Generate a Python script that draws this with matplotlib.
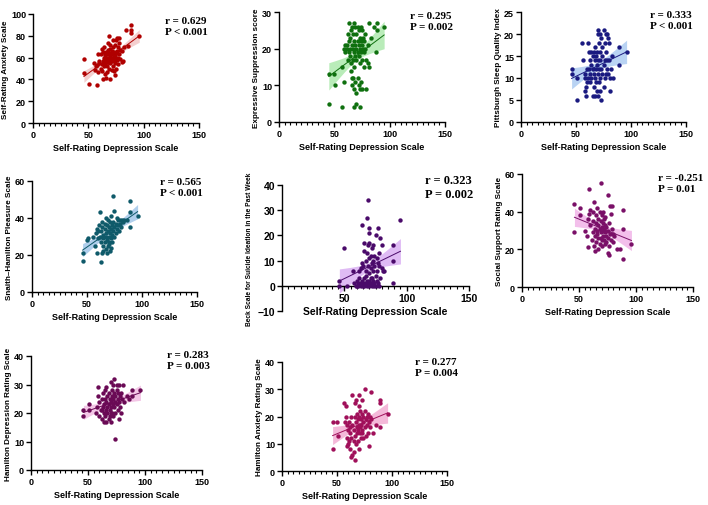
import numpy as np
import matplotlib
matplotlib.use('Agg')
import matplotlib.pyplot as plt
from matplotlib.ticker import MultipleLocator

plt.rcParams['font.family'] = 'Liberation Sans'
plt.rcParams['font.weight'] = 'bold'

# ---- data (x = Self-Rating Depression Scale) ----
p1 = [(46,59),(46,46),(51,36),(58,35),(63,40),(66,41),(70,40),(74,44),(59,47),(61,50),(55,55),(57,52),(59,63),(61,63),(62,54),(63,57),(64,60),(65,62),(65,55),(66,58),(66,65),(67,52),(67,60),(68,56),(68,63),(68,67),(69,80),(69,58),(69,50),(70,61),(70,55),(70,68),(71,57),(71,63),(72,60),(72,52),(72,70),(73,58),(73,65),(74,62),(74,55),(74,72),(75,60),(75,76),(76,66),(76,58),(77,54),(77,70),(78,63),(78,73),(79,67),(80,56),(80,66),(81,57),(82,70),(84,85),(86,71),(89,90),(89,85),(89,83),(96,80),(60,57),(62,48),(64,52),(65,45),(67,47),(63,65),(71,49),(73,48),(75,50),(76,78),(78,78),(70,72),(68,73),(72,76),(62,68),(64,70),(60,55),(58,53),(56,49),(71,66),(69,64),(66,60),(67,56),(73,61),(75,64),(77,60),(79,59),(71,59),(70,62),(69,56)]
p2 = [(45,13),(50,13),(51,10),(45,5),(57,4),(68,4),(70,5),(73,4),(59,11),(57,15),(59,20),(60,21),(61,21),(61,20),(62,24),(63,27),(63,22),(64,20),(64,18),(65,25),(65,16),(65,14),(66,26),(66,12),(66,10),(67,24),(67,20),(67,17),(67,12),(68,27),(68,22),(68,19),(68,15),(68,9),(69,26),(69,21),(69,18),(69,11),(70,24),(70,20),(70,17),(70,8),(71,26),(71,22),(71,19),(71,12),(72,25),(72,21),(72,18),(72,10),(73,23),(73,20),(73,16),(73,9),(74,26),(74,22),(74,19),(74,11),(75,25),(75,21),(75,17),(75,9),(76,23),(76,20),(77,22),(77,15),(77,19),(78,24),(78,20),(79,17),(79,9),(80,16),(80,21),(81,27),(81,15),(83,23),(86,26),(88,19),(89,27),(89,25),(95,26),(63,19),(64,23),(66,21),(62,17),(60,19)]
p3 = [(46,12),(46,11),(51,10),(51,5),(56,14),(55,18),(58,11),(58,10),(58,7),(59,8),(59,6),(60,12),(60,9),(61,18),(62,12),(62,16),(63,11),(63,9),(63,14),(64,16),(64,10),(64,13),(65,6),(65,15),(65,12),(66,8),(66,16),(66,11),(67,14),(67,10),(67,17),(68,12),(68,15),(68,9),(69,7),(69,13),(69,16),(70,21),(70,20),(70,11),(70,6),(70,14),(71,18),(71,9),(71,12),(72,16),(72,7),(72,10),(72,14),(73,5),(73,19),(73,12),(74,17),(74,11),(74,15),(75,21),(75,8),(75,13),(76,18),(76,14),(76,10),(77,11),(77,16),(78,20),(78,14),(78,12),(79,19),(79,11),(80,18),(80,14),(81,7),(81,10),(82,12),(83,15),(84,10),(89,17),(89,13),(96,16),(61,10),(67,6),(72,20),(77,20)]
p4 = [(46,21),(46,17),(50,28),(51,29),(55,30),(57,25),(58,32),(59,21),(59,34),(60,29),(61,36),(62,43),(62,30),(63,16),(63,27),(63,33),(64,21),(64,38),(64,35),(65,29),(65,25),(65,31),(66,34),(66,27),(66,37),(67,30),(67,23),(67,32),(68,21),(68,36),(68,28),(69,33),(69,25),(69,39),(70,30),(70,35),(70,27),(71,32),(71,38),(71,22),(72,29),(72,34),(72,41),(73,36),(73,31),(73,27),(74,52),(74,33),(74,38),(75,44),(75,30),(75,35),(76,37),(76,32),(77,40),(77,34),(78,36),(78,39),(79,33),(80,37),(80,39),(81,35),(82,39),(83,38),(84,39),(86,39),(89,49),(89,35),(89,43),(96,41),(60,33),(65,22),(67,40),(70,26),(72,24)]
p5 = [(46,2),(46,0),(50,15),(52,0),(57,6),(58,1),(59,0),(60,2),(61,1),(61,0),(62,3),(63,0),(63,1),(64,9),(64,24),(64,2),(65,0),(65,8),(65,1),(66,17),(66,14),(66,3),(66,0),(67,6),(67,1),(67,10),(68,27),(68,13),(68,2),(68,0),(69,34),(69,8),(69,1),(69,16),(70,23),(70,21),(70,17),(70,11),(70,5),(70,0),(70,2),(71,12),(71,7),(71,1),(72,3),(72,0),(72,15),(72,9),(73,6),(73,2),(73,16),(74,1),(74,0),(74,8),(74,12),(75,20),(75,4),(75,0),(76,6),(76,2),(77,23),(77,9),(77,1),(78,0),(78,13),(79,19),(79,3),(80,16),(80,7),(81,6),(82,6),(89,16),(89,10),(89,1),(95,26),(62,6),(67,4),(71,3),(73,10),(76,11),(78,8),(63,7),(60,0)]
p6 = [(46,44),(46,29),(51,42),(51,38),(55,30),(57,27),(58,21),(58,36),(59,52),(59,39),(60,41),(60,33),(61,25),(62,29),(62,35),(63,45),(63,22),(64,19),(64,31),(64,27),(65,38),(65,34),(65,24),(66,42),(66,30),(66,28),(67,36),(67,26),(67,33),(68,40),(68,23),(68,31),(69,55),(69,35),(69,29),(69,26),(70,38),(70,32),(70,22),(71,30),(71,34),(71,27),(72,36),(72,25),(72,31),(73,29),(73,23),(73,33),(74,27),(74,32),(74,24),(75,49),(75,18),(75,30),(75,26),(76,17),(76,22),(76,34),(77,43),(77,28),(78,39),(78,25),(79,43),(79,31),(80,24),(80,28),(81,27),(83,20),(86,20),(89,41),(89,31),(89,15),(96,23),(62,40),(67,20),(70,25),(73,37),(71,40)]
p7 = [(46,21),(46,19),(51,23),(51,21),(57,20),(58,22),(59,29),(59,26),(60,19),(60,24),(61,21),(62,18),(62,25),(63,22),(63,27),(64,17),(64,20),(64,23),(65,28),(65,19),(65,25),(66,21),(66,24),(66,17),(67,22),(67,26),(67,20),(68,18),(68,23),(68,27),(69,25),(69,21),(69,19),(70,31),(70,24),(70,22),(70,17),(71,26),(71,20),(71,28),(72,23),(72,25),(72,19),(73,32),(73,27),(73,22),(74,11),(74,24),(74,26),(74,20),(75,28),(75,23),(75,30),(76,25),(76,21),(76,27),(77,30),(77,24),(78,22),(78,26),(79,20),(79,27),(80,25),(81,30),(82,24),(84,26),(86,25),(89,28),(89,26),(96,28),(62,21),(66,29),(70,20),(72,30),(77,18)]
p8 = [(46,18),(46,8),(50,18),(51,13),(56,25),(57,18),(58,20),(58,24),(59,17),(59,12),(59,9),(60,10),(60,15),(61,18),(61,11),(62,14),(62,16),(63,5),(63,20),(63,12),(64,6),(64,28),(64,17),(65,7),(65,11),(65,15),(66,25),(66,13),(66,20),(67,18),(67,26),(67,10),(68,16),(68,14),(68,21),(69,11),(69,19),(69,15),(70,28),(70,17),(70,20),(70,8),(71,16),(71,14),(71,22),(72,19),(72,12),(72,17),(73,21),(73,15),(73,14),(74,18),(74,12),(74,20),(75,30),(75,22),(75,16),(76,19),(76,13),(77,20),(77,17),(78,21),(78,14),(79,9),(79,18),(80,16),(80,20),(81,29),(81,19),(83,14),(85,17),(89,26),(89,25),(89,16),(96,21),(62,8),(66,4),(70,24),(73,26)]

ylabels = ['Self-Rating Anxiety Scale', 'Expressive Suppression score', 'Pittsburgh Sleep Quality Index',
           'Snaith\u2013Hamilton Pleasure Scale', 'Beck Scale for Suicide Ideation in the Past Week',
           'Social Support Rating Scale', 'Hamilton Depression Rating Scale', 'Hamilton Anxiety Rating Scale']
stats = ['r = 0.629\nP < 0.001', 'r = 0.295\nP = 0.002', 'r = 0.333\nP < 0.001', 'r = 0.565\nP < 0.001',
         'r = 0.323\nP = 0.002', 'r = -0.251\nP = 0.01', 'r = 0.283\nP = 0.003', 'r = 0.277\nP = 0.004']
ylims = [(0, 100), (0, 30), (0, 25), (0, 60), (-10, 40), (0, 60), (0, 40), (0, 40)]
ysteps = [20, 10, 5, 20, 10, 20, 10, 10]
dot_cols = ['#b00000', '#0f700f', '#1a1a80', '#0f5a6a', '#4a0a6a', '#7a1068', '#6a0a55', '#a0105a']
band_cols = ['#f2c4c4', '#a8e8a8', '#a8c8f0', '#9cc3e8', '#d8aaf2', '#f0b0e6', '#f0b8e0', '#f2a8d0']
datasets = [p1, p2, p3, p4, p5, p6, p7, p8]

# axes boxes in pixels: left, right, top, bottom
boxes = [(33, 199, 15, 124), (279, 445, 13, 123), (521, 686, 13, 123),
         (32, 197, 182, 293), (282, 469, 186, 312), (522, 693, 175, 288),
         (31, 202, 357, 471), (282, 447, 363, 472)]
text_pos = [(165, 17), (410, 12), (650, 11), (160, 178), (425, 175), (658, 174), (167, 351), (415, 358)]

W, H = 708, 506
fig = plt.figure(figsize=(7.08, 5.06), dpi=100)

for i in range(8):
    l, r, t, b = boxes[i]
    ax = fig.add_axes([l / W, 1 - b / H, (r - l) / W, (b - t) / H])
    d = np.array(datasets[i], dtype=float)
    x, y = d[:, 0], d[:, 1]

    # linear fit with 95% confidence band
    k, c = np.polyfit(x, y, 1)
    xs = np.linspace(x.min(), x.max(), 100)
    n = len(x)
    resid = y - (k * x + c)
    s = np.sqrt(np.sum(resid ** 2) / (n - 2))
    se = s * np.sqrt(1 / n + (xs - x.mean()) ** 2 / np.sum((x - x.mean()) ** 2))
    ax.fill_between(xs, k * xs + c - 1.98 * se, k * xs + c + 1.98 * se,
                    color=band_cols[i], alpha=0.8, lw=0, zorder=1)
    ax.plot(xs, k * xs + c, color=dot_cols[i], lw=0.7, zorder=2)
    ax.scatter(x, y, s=10, color=dot_cols[i], zorder=3, lw=0, clip_on=False)

    ax.set_xlim(0, 150)
    ax.set_ylim(*ylims[i])
    ax.xaxis.set_major_locator(MultipleLocator(50))
    ax.xaxis.set_minor_locator(MultipleLocator(5))
    ax.yaxis.set_major_locator(MultipleLocator(ysteps[i]))
    for sp in ['top', 'right']:
        ax.spines[sp].set_visible(False)
    for sp in ['left', 'bottom']:
        ax.spines[sp].set_linewidth(1.0)
    ax.tick_params(which='major', length=3.5, width=1.0, labelsize=6.5, pad=1.5)
    ax.tick_params(which='minor', length=2, width=0.8)
    if i == 4:
        ax.spines['bottom'].set_position(('data', 0))
        ax.set_xticks([50, 100, 150])
        ax.tick_params(axis='x', labelsize=7.5, pad=1.5)
        ax.tick_params(axis='y', labelsize=7.5)
        ax.set_xlabel('Self-Rating Depression Scale', fontsize=7.5, fontweight='bold')
        ax.xaxis.set_label_coords(0.5, 0.0)
        ax.xaxis.label.set_va('center')
        ax.set_ylabel(ylabels[i], fontsize=4.8, fontweight='bold', labelpad=3)
        fs = 9
    else:
        ax.set_xlabel('Self-Rating Depression Scale', fontsize=6.5, fontweight='bold', labelpad=3)
        ax.set_ylabel(ylabels[i], fontsize=5.9, fontweight='bold', labelpad=1.5)
        fs = 8
    tx, ty = text_pos[i]
    fig.text(tx / W, 1 - ty / H, stats[i], fontsize=fs, fontweight='bold',
             family='Liberation Serif', va='top', ha='left', linespacing=1.25)

fig.savefig('out.png', dpi=100)
